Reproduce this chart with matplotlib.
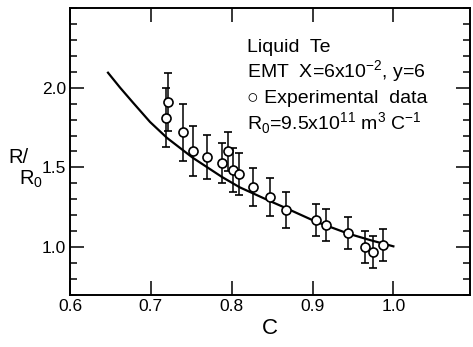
import matplotlib.pyplot as plt
from matplotlib.ticker import MultipleLocator

c_data = [0.719, 0.721, 0.740, 0.752, 0.770, 0.788, 0.796, 0.802, 0.809,
          0.826, 0.848, 0.867, 0.904, 0.917, 0.944, 0.965, 0.975, 0.987]
r_data = [1.81, 1.91, 1.72, 1.60, 1.566, 1.528, 1.60, 1.484, 1.459,
          1.377, 1.314, 1.233, 1.170, 1.138, 1.088, 1.00, 0.969, 1.013]
r_err = [0.185, 0.18, 0.18, 0.157, 0.14, 0.126, 0.12, 0.14, 0.13,
         0.12, 0.12, 0.11, 0.10, 0.10, 0.10, 0.10, 0.10, 0.10]

# EMT curve
c_emt = [0.647, 0.662, 0.678, 0.699, 0.720, 0.752, 0.788, 0.810, 0.849, 0.867, 0.904, 0.944, 0.972, 1.0]
r_emt = [2.094, 2.0, 1.906, 1.785, 1.685, 1.56, 1.44, 1.375, 1.285, 1.245, 1.16, 1.085, 1.043, 1.005]

xticks = [0.6, 0.7, 0.8, 0.9, 1.0]
xtick_labels = ["0.6", "0.7", "0.8", "0.9", "1.0"]
yticks = [1.0, 1.5, 2.0]
ytick_labels = ["1.0", "1.5", "2.0"]

plt.rcParams['font.family'] = ['Liberation Sans', 'DejaVu Sans']
plt.rcParams['mathtext.fontset'] = 'custom'
plt.rcParams['mathtext.rm'] = 'Liberation Sans'

fig = plt.figure(figsize=(4.73, 3.47), dpi=100)
ax = fig.add_axes([0.148, 0.150, 0.846, 0.827])

ax.plot(c_emt, r_emt, color='black', lw=1.6)
ax.errorbar(c_data, r_data, yerr=r_err, fmt='o', mfc='white', mec='black',
            mew=1.2, ms=6.5, ecolor='black', elinewidth=1.1, capsize=3, capthick=1.1)

ax.set_xlim(0.6, 1.095)
ax.set_ylim(0.7, 2.5)
ax.set_xticks(xticks)
ax.set_xticklabels(xtick_labels)
ax.set_yticks(yticks)
ax.set_yticklabels(ytick_labels)
ax.yaxis.set_minor_locator(MultipleLocator(0.1))
ax.tick_params(which='both', direction='in', top=True, right=True, labelsize=12.5)
ax.tick_params(which='major', length=10, width=1.1, pad=3)
ax.tick_params(which='minor', length=5, width=1.1)
for s in ax.spines.values():
    s.set_linewidth(1.4)

ax.set_xlabel("C", fontsize=16, labelpad=3)
# y label R/R0 drawn as two pieces like the original lettering
fig.text(0.017, 0.530, "R/", fontsize=14.5, ha='left', va='baseline')
fig.text(0.040, 0.468, "R$_\\mathregular{0}$", fontsize=14.5, ha='left', va='baseline')

tx = 0.4425
ax.text(tx, 0.847, "Liquid  Te", transform=ax.transAxes, fontsize=14, va='baseline')
ax.text(tx, 0.756, "EMT  X=6x10$^{\\mathregular{-2}}$, y=6", transform=ax.transAxes, fontsize=14, va='baseline')
ax.text(tx, 0.669, "\u25cb Experimental  data", transform=ax.transAxes, fontsize=14, va='baseline')
ax.text(tx, 0.575, "R$_\\mathregular{0}$=9.5x10$^{\\mathregular{11}}$ m$^\\mathregular{3}$ C$^{\\mathregular{-1}}$",
        transform=ax.transAxes, fontsize=14, va='baseline')

fig.savefig("out.png", dpi=100)
